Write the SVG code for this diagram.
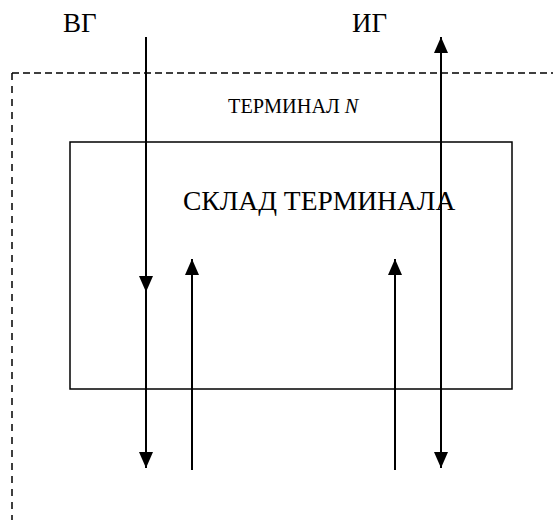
<svg xmlns="http://www.w3.org/2000/svg" width="553" height="520" viewBox="0 0 553 520">
<style>
text{fill:#000}
.dash{fill:none;stroke:#000;stroke-width:1.5}
.ln{stroke:#000;stroke-width:2;fill:none}
</style>
<defs>
<marker id="ah" viewBox="0 0 16 14" refX="16" refY="7" markerWidth="16" markerHeight="14" markerUnits="userSpaceOnUse" orient="auto">
<path d="M0,0 L16,7 L0,14 z" fill="#000"/>
</marker>
</defs>
<rect width="553" height="520" fill="#fff"/>
<g id="terminal">
<line class="dash" x1="12" y1="73" x2="553" y2="73" stroke-dasharray="7 4"/>
<line class="dash" x1="12" y1="73" x2="12" y2="520" stroke-dasharray="7 6"/>
<text font-family="'Liberation Serif', Tinos, 'DejaVu Serif', serif" x="228" y="113" font-size="20.3">ТЕРМИНАЛ <tspan font-style="italic">N</tspan></text>
</g>
<g id="sklad">
<rect x="70" y="142" width="442" height="247" fill="none" stroke="#000" stroke-width="1.5"/>
<text font-family="'Liberation Serif', Tinos, 'DejaVu Serif', serif" x="183" y="210" font-size="27.5">СКЛАД ТЕРМИНАЛА</text>
</g>
<g id="labels">
<text font-family="'Liberation Serif', Tinos, 'DejaVu Serif', serif" x="63" y="32" font-size="27">ВГ</text>
<text font-family="'Liberation Serif', Tinos, 'DejaVu Serif', serif" x="352" y="32" font-size="27">ИГ</text>
</g>
<g id="connectors">
<line class="ln" x1="146" y1="37" x2="146" y2="292" marker-end="url(#ah)"/>
<line class="ln" x1="146" y1="285" x2="146" y2="468" marker-end="url(#ah)"/>
<line class="ln" x1="192" y1="470" x2="192" y2="259" marker-end="url(#ah)"/>
<line class="ln" x1="395" y1="470" x2="395" y2="259" marker-end="url(#ah)"/>
<line class="ln" x1="441" y1="260" x2="441" y2="37" marker-end="url(#ah)"/>
<line class="ln" x1="441" y1="250" x2="441" y2="468" marker-end="url(#ah)"/>
</g>
</svg>
